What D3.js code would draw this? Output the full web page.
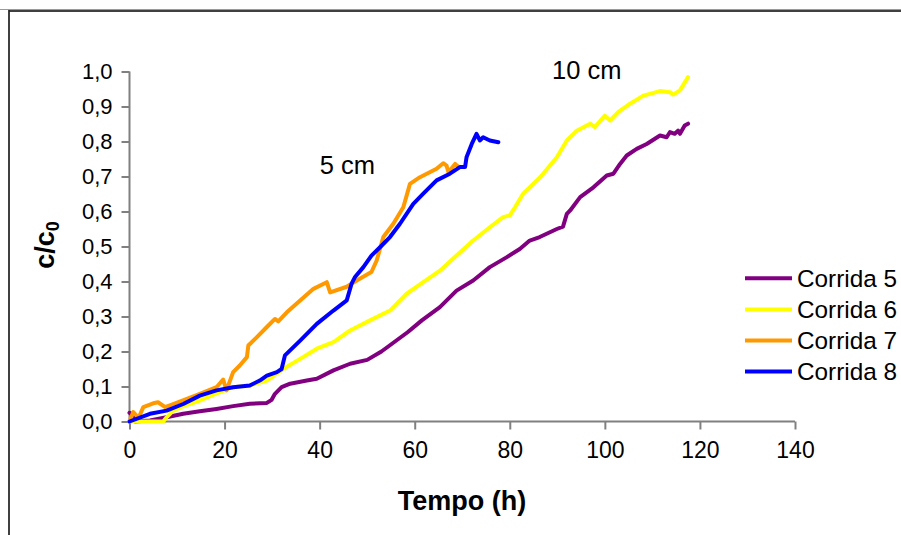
<!DOCTYPE html>
<html>
<head>
<meta charset="utf-8">
<script src="https://cdn.jsdelivr.net/npm/d3@7"></script>
<style>
  html, body { margin: 0; padding: 0; background: #fff; }
  svg { display: block; font-family: "Liberation Sans", Arial, sans-serif; }
</style>
</head>
<body>
<svg id="chart" width="901" height="535"></svg>
<script>
// Breakthrough curves: relative concentration c/c0 versus time (h)
const xTicks = [0, 20, 40, 60, 80, 100, 120, 140];
const yTicks = [0, 0.1, 0.2, 0.3, 0.4, 0.5, 0.6, 0.7, 0.8, 0.9, 1.0];

const seriesNames = ["Corrida 5", "Corrida 6", "Corrida 7", "Corrida 8"];
const seriesColors = ["#800080", "#FFFF00", "#FF9900", "#0000FF"];

// Corrida 5 (10 cm column)
const corrida5 = [
  [0, 0.025], [0.6, 0.02], [1.2, 0.0], [4.3, 0.003], [7.8, 0.012], [11.3, 0.022],
  [14.8, 0.029], [18.3, 0.036], [21.8, 0.044], [25.3, 0.051], [28.9, 0.053],
  [29.9, 0.062], [30.6, 0.079], [32.0, 0.098], [33.8, 0.108], [37.3, 0.117],
  [39.4, 0.122], [42.9, 0.146], [46.4, 0.165], [50.0, 0.176], [53.0, 0.2],
  [56.0, 0.23], [58.5, 0.255], [61.5, 0.289], [65.3, 0.327], [68.8, 0.374],
  [72.3, 0.403], [75.8, 0.441], [79.3, 0.469], [82.1, 0.493], [84.2, 0.517],
  [86.3, 0.527], [89.9, 0.55], [91.2, 0.557], [92.0, 0.593], [92.7, 0.603],
  [94.8, 0.641], [97.6, 0.669], [100.4, 0.703], [101.8, 0.708], [103.2, 0.736],
  [104.6, 0.76], [106.7, 0.779], [108.8, 0.793], [111.6, 0.817], [113.0, 0.812],
  [113.7, 0.827], [114.7, 0.822], [115.4, 0.831], [115.8, 0.822], [116.8, 0.846],
  [117.5, 0.851]
];

// Corrida 6 (10 cm column)
const corrida6 = [
  [0, 0.0], [7.1, 0.0], [7.8, 0.012], [9.2, 0.031], [11.5, 0.045], [14.8, 0.06],
  [18.3, 0.08], [21.8, 0.098], [25.3, 0.103], [28.9, 0.117], [32.3, 0.15],
  [35.9, 0.179], [39.4, 0.208], [42.9, 0.227], [46.4, 0.26], [50.6, 0.289],
  [54.8, 0.317], [58.3, 0.365], [61.8, 0.398], [65.3, 0.431], [68.8, 0.474],
  [72.3, 0.517], [75.8, 0.555], [78.6, 0.584], [80.0, 0.589], [81.1, 0.612],
  [82.8, 0.651], [86.4, 0.698], [89.9, 0.755], [92.0, 0.803], [94.1, 0.831],
  [96.9, 0.851], [97.9, 0.841], [100.0, 0.874], [101.1, 0.86], [102.8, 0.884],
  [105.3, 0.908], [108.1, 0.931], [111.6, 0.944], [113.7, 0.941], [114.4, 0.934],
  [115.8, 0.946], [117.5, 0.984]
];

// Corrida 7 (5 cm column)
const corrida7 = [
  [0, 0.0], [0.8, 0.027], [1.9, 0.01], [2.9, 0.041], [5.0, 0.052], [6.0, 0.055],
  [7.5, 0.041], [9.2, 0.05], [14.8, 0.079], [18.3, 0.098], [19.7, 0.12],
  [20.4, 0.089], [21.8, 0.141], [23.2, 0.16], [24.7, 0.184], [25.0, 0.217],
  [26.8, 0.241], [28.9, 0.27], [30.6, 0.293], [31.3, 0.286], [33.1, 0.312],
  [35.9, 0.346], [38.7, 0.379], [41.5, 0.398], [42.2, 0.369], [45.7, 0.385],
  [47.8, 0.403], [50.9, 0.427], [52.0, 0.46], [53.4, 0.527], [55.5, 0.565],
  [57.6, 0.612], [59.0, 0.679], [61.1, 0.698], [64.6, 0.722], [66.0, 0.738],
  [66.7, 0.731], [67.1, 0.712], [68.5, 0.736], [69.0, 0.73]
];

// Corrida 8 (5 cm column)
const corrida8 = [
  [0, 0.0], [4.3, 0.022], [7.8, 0.031], [11.3, 0.05], [14.8, 0.074], [18.3, 0.089],
  [21.8, 0.098], [25.3, 0.103], [27.4, 0.117], [28.9, 0.131], [31.0, 0.141],
  [32.0, 0.15], [32.7, 0.189], [35.9, 0.231], [39.4, 0.279], [42.9, 0.317],
  [45.7, 0.346], [46.7, 0.393], [47.4, 0.412], [49.2, 0.441], [50.9, 0.474],
  [52.7, 0.498], [54.8, 0.527], [56.9, 0.565], [59.7, 0.622], [61.8, 0.651],
  [64.6, 0.689], [67.4, 0.708], [69.5, 0.727], [70.6, 0.727], [70.9, 0.755],
  [72.0, 0.793], [73.0, 0.822], [73.7, 0.803], [74.4, 0.812], [75.8, 0.803],
  [77.6, 0.798]
];

const seriesData = [corrida5, corrida6, corrida7, corrida8];

const annotations = [
  { text: "5 cm", x: 40.0, y: 0.708 },
  { text: "10 cm", x: 88.9, y: 0.98 }
];

const svg = d3.select("#chart");

// outer frame of the chart area
svg.append("line").attr("x1", 0).attr("x2", 901).attr("y1", 9.5).attr("y2", 9.5)
  .attr("stroke", "#9a9a9a").attr("stroke-width", 1);
svg.append("line").attr("x1", 9.5).attr("x2", 901).attr("y1", 11).attr("y2", 11)
  .attr("stroke", "#000").attr("stroke-width", 1.5);
svg.append("line").attr("x1", 9).attr("x2", 9).attr("y1", 10).attr("y2", 535)
  .attr("stroke", "#000").attr("stroke-width", 1.5);

const x = d3.scaleLinear().domain([0, 140]).range([129.5, 795]);
const y = d3.scaleLinear().domain([0, 1]).range([421.5, 71.5]);

const fmt = d => d3.format(".1f")(d).replace(".", ",");

// y axis
const yAxis = svg.append("g").attr("transform", "translate(129.5,0)")
  .call(d3.axisLeft(y).tickValues(yTicks).tickSize(8).tickPadding(9).tickFormat(fmt));
// x axis
const xAxis = svg.append("g").attr("transform", "translate(0,421.5)")
  .call(d3.axisBottom(x).tickValues(xTicks).tickSize(8).tickPadding(12).tickFormat(d3.format("d")));

[yAxis, xAxis].forEach(g => {
  g.attr("font-family", "'Liberation Sans', Arial, sans-serif");
  g.select(".domain").attr("stroke", "#808080").attr("stroke-width", 2);
  g.selectAll(".tick line").attr("stroke", "#808080").attr("stroke-width", 2);
  g.selectAll(".tick text").attr("fill", "#000");
});
yAxis.attr("font-size", 22);
xAxis.attr("font-size", 23);
xAxis.select(".domain").attr("d", `M${x(0)},0H${x(140)}`);
yAxis.select(".domain").attr("d", `M0,${y(0)}V${y(1)}`);

// series
const line = d3.line().x(d => x(d[0])).y(d => y(d[1]));
seriesData.forEach((data, i) => {
  svg.append("path").datum(data)
    .attr("d", line)
    .attr("fill", "none")
    .attr("stroke", seriesColors[i])
    .attr("stroke-width", 4)
    .attr("stroke-linejoin", "round")
    .attr("stroke-linecap", "round");
});

// annotations
annotations.forEach(a => {
  svg.append("text").attr("x", x(a.x)).attr("y", y(a.y))
    .attr("font-size", 25.5).attr("fill", "#000").text(a.text);
});

// axis titles
svg.append("text").attr("x", 462).attr("y", 510).attr("text-anchor", "middle")
  .attr("font-size", 27).attr("font-weight", "bold").text("Tempo (h)");

const yt = svg.append("text").attr("transform", "translate(54,245) rotate(-90)")
  .attr("text-anchor", "middle").attr("font-size", 27).attr("font-weight", "bold");
yt.append("tspan").text("c/c");
yt.append("tspan").attr("font-size", 18).attr("dy", 5).text("0");

// legend
const legend = svg.append("g");
seriesNames.forEach((name, i) => {
  const ly = 278.3 + i * 31.1;
  legend.append("line").attr("x1", 745).attr("x2", 792).attr("y1", ly).attr("y2", ly)
    .attr("stroke", seriesColors[i]).attr("stroke-width", 4);
  legend.append("text").attr("x", 797).attr("y", ly + 8.4)
    .attr("font-size", 24.3).attr("fill", "#000").text(name);
});
</script>
</body>
</html>
